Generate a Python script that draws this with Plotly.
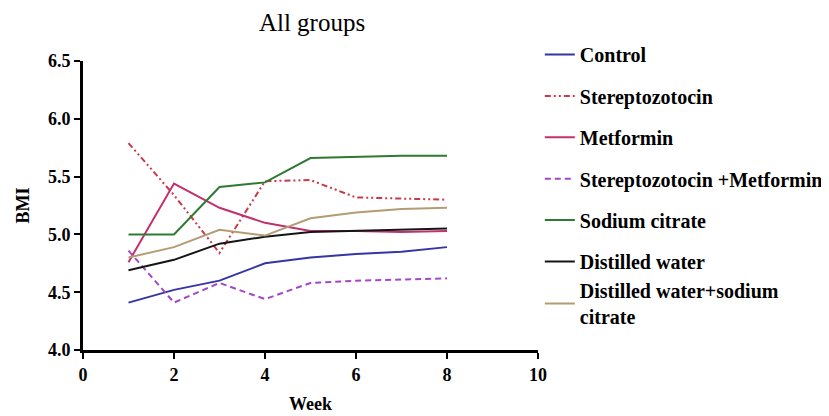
import plotly.graph_objects as go

weeks = [1, 2, 3, 4, 5, 6, 7, 8]
control = [4.41, 4.52, 4.60, 4.75, 4.80, 4.83, 4.85, 4.89]
stz = [5.79, 5.34, 4.84, 5.46, 5.47, 5.32, 5.31, 5.30]
metformin = [4.76, 5.44, 5.23, 5.10, 5.03, 5.03, 5.02, 5.03]
stz_met = [4.86, 4.41, 4.58, 4.44, 4.58, 4.60, 4.61, 4.62]
sodium_citrate = [5.00, 5.00, 5.41, 5.45, 5.66, 5.67, 5.68, 5.68]
distilled = [4.69, 4.78, 4.92, 4.98, 5.02, 5.03, 5.04, 5.05]
dw_sc = [4.80, 4.89, 5.04, 4.99, 5.14, 5.19, 5.22, 5.23]

names = ["Control", "Stereptozotocin", "Metformin", "Stereptozotocin +Metformin",
         "Sodium citrate", "Distilled water", "Distilled water+sodium<br>citrate"]
series = [control, stz, metformin, stz_met, sodium_citrate, distilled, dw_sc]
colors = ["#3535a5", "#c83a4a", "#c2306e", "#a048c8", "#2f7a33", "#151515", "#b59b73"]
dashes = ["solid", "6px,3px,2px,3px,2px,3px", "solid", "6px,4px", "solid", "solid", "solid"]

fig = go.Figure()
for i, (n, s, c, d) in enumerate(zip(names, series, colors, dashes)):
    fig.add_trace(go.Scatter(x=weeks, y=s, mode="lines", name=n,
                             line=dict(color=c, width=2, dash=d),
                             legendgroup=str(i),
                             legend="legend2" if i == len(names) - 1 else "legend"))

font_family = "Liberation Serif"
W, H = 821, 408
leg_font = dict(family=font_family, size=20, color="black", weight="bold")
fig.update_layout(
    width=W, height=H,
    margin=dict(l=75, r=291, t=53, b=66, autoexpand=False),
    paper_bgcolor="white", plot_bgcolor="white",
    title=dict(text="All groups", x=304 / W, xanchor="center", y=1 - 14 / H, yanchor="middle",
               font=dict(family=font_family, size=25, color="black")),
    font=dict(family=font_family, color="black"),
    legend=dict(x=1.004, y=1.09, xanchor="left", yanchor="top", font=leg_font,
                tracegroupgap=12.4, itemwidth=30, bgcolor="rgba(0,0,0,0)", maxheight=400),
    legend2=dict(x=1.004, y=0.273, xanchor="left", yanchor="top", font=leg_font,
                 itemwidth=30, bgcolor="rgba(0,0,0,0)"),
    showlegend=True,
)
fig.update_xaxes(range=[0, 10], tickvals=[0, 2, 4, 6, 8, 10], showline=True, linecolor="black",
                 linewidth=3, ticks="outside", ticklen=6, tickwidth=2, tickcolor="black",
                 showgrid=False, zeroline=False,
                 tickfont=dict(family=font_family, size=18, weight="bold"),
                 title=dict(text="Week", font=dict(family=font_family, size=18, weight="bold"), standoff=14))
fig.update_yaxes(range=[4.0, 6.5], tickvals=[4.0, 4.5, 5.0, 5.5, 6.0, 6.5],
                 ticktext=["4.0", "4.5", "5.0", "5.5", "6.0", "6.5"],
                 showline=True, linecolor="black",
                 linewidth=3, ticks="outside", ticklen=6, tickwidth=2, tickcolor="black",
                 showgrid=False, zeroline=False,
                 tickfont=dict(family=font_family, size=18, weight="bold"),
                 title=dict(text="BMI", font=dict(family=font_family, size=18, weight="bold"), standoff=14))

fig.write_html("out.html")
